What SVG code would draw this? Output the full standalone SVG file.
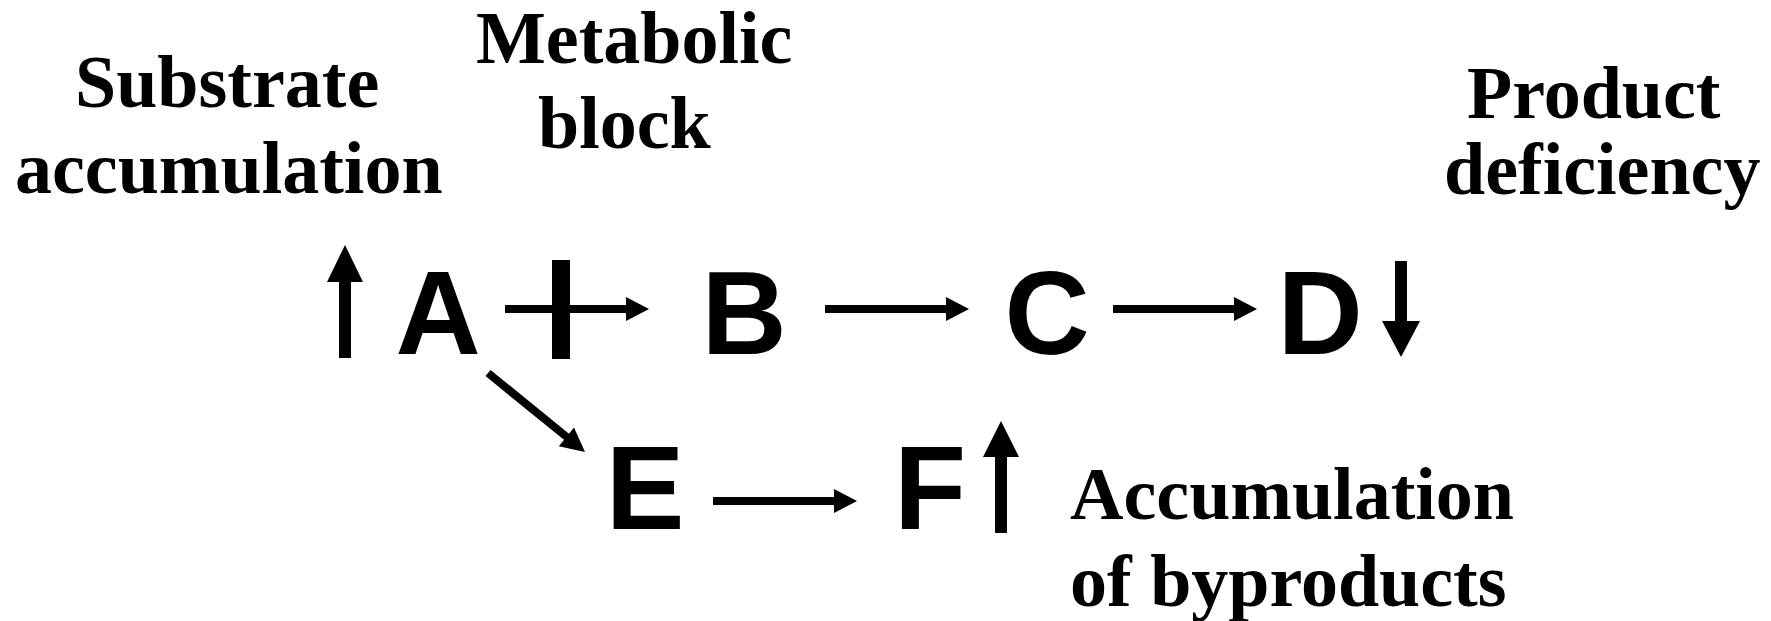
<svg xmlns="http://www.w3.org/2000/svg" width="1771" height="621" viewBox="0 0 1771 621">
<style>
.lbl{font-family:"Liberation Serif","Times New Roman",serif;font-weight:bold;font-size:74px;fill:#000}
.mol{font-family:"Liberation Sans",Arial,sans-serif;font-weight:bold;font-size:118px;fill:#000;text-anchor:middle}
.thin{stroke:#000;stroke-width:8;fill:none}
.fat{stroke:#000;stroke-width:12;fill:none}
.head{fill:#000;stroke:none}
</style>
<rect width="1771" height="621" fill="#fff"/>
<g id="connectors">
<g id="a-b">
<line class="thin" x1="505" y1="309" x2="628" y2="309"/>
<path class="head" d="M626,297 L649,309 L626,321 Z"/>
<rect x="552" y="260" width="18" height="99" fill="#000"/>
</g>
<g id="b-c">
<line class="thin" x1="825" y1="309" x2="948" y2="309"/>
<path class="head" d="M946,297 L969,309 L946,321 Z"/>
</g>
<g id="c-d">
<line class="thin" x1="1113" y1="309" x2="1236" y2="309"/>
<path class="head" d="M1234,297 L1257,309 L1234,321 Z"/>
</g>
<g id="e-f">
<line class="thin" x1="713" y1="501" x2="836" y2="501"/>
<path class="head" d="M834,489 L857,501 L834,513 Z"/>
</g>
<g id="a-e">
<line class="thin" x1="488" y1="373" x2="568" y2="438"/>
<path class="head" d="M558.8,446.2 L585,452 L574,427.6 Z"/>
</g>
<g id="up-a">
<line class="fat" x1="345" y1="358" x2="345" y2="280"/>
<path class="head" d="M327,282 L345,245 L363,282 Z"/>
</g>
<g id="down-d">
<line class="fat" x1="1401" y1="261" x2="1401" y2="323"/>
<path class="head" d="M1382,321 L1401,357 L1420,321 Z"/>
</g>
<g id="up-f">
<line class="fat" x1="1001" y1="533" x2="1001" y2="455"/>
<path class="head" d="M983,457 L1001,421 L1019,457 Z"/>
</g>
</g>
<g id="A"><text class="mol" x="438" y="354">A</text></g>
<g id="B"><text class="mol" x="744" y="354">B</text></g>
<g id="C"><text class="mol" x="1047" y="354">C</text></g>
<g id="D"><text class="mol" x="1320" y="354">D</text></g>
<g id="E"><text class="mol" x="645" y="529">E</text></g>
<g id="F"><text class="mol" x="930" y="529">F</text></g>
<g id="substrate"><text class="lbl" x="75" y="107">Substrate</text><text class="lbl" x="15" y="193">accumulation</text></g>
<g id="block"><text class="lbl" x="476" y="63">Metabolic</text><text class="lbl" x="538" y="148">block</text></g>
<g id="product"><text class="lbl" x="1467" y="118">Product</text><text class="lbl" x="1444" y="194">deficiency</text></g>
<g id="byproducts"><text class="lbl" x="1070" y="519">Accumulation</text><text class="lbl" x="1070" y="606">of byproducts</text></g>
</svg>
